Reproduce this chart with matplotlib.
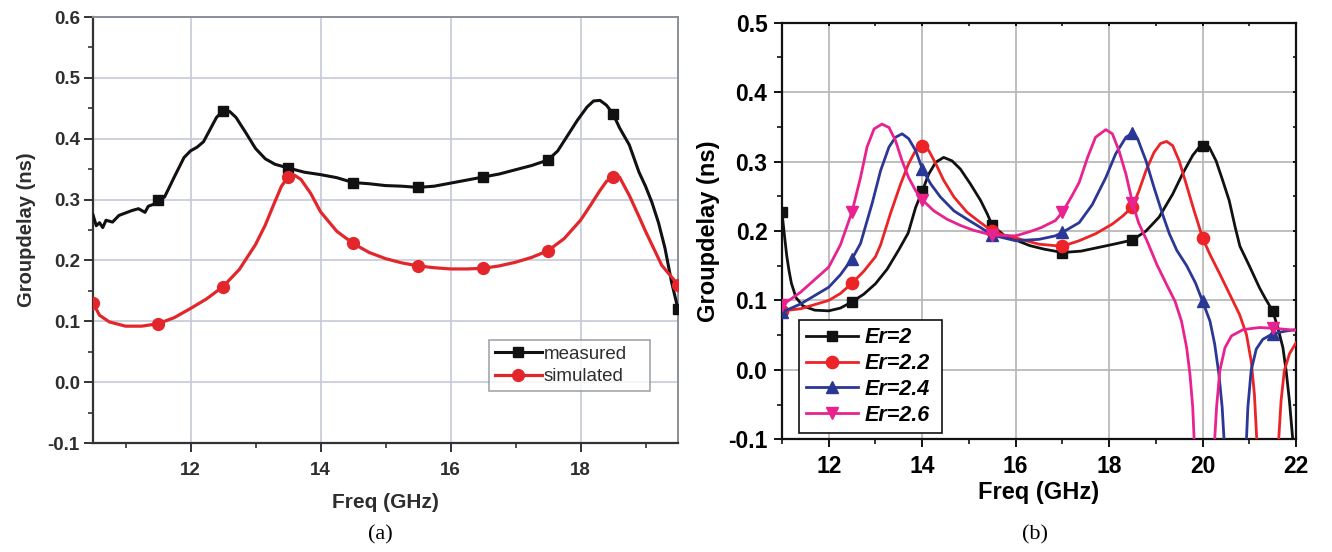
import numpy as np
import matplotlib
matplotlib.use("Agg")
import matplotlib.pyplot as plt
from matplotlib.ticker import MultipleLocator, FormatStrFormatter

# ---------------- data: panel (a) ----------------
meas_f = [10.5, 10.55, 10.6, 10.65, 10.7, 10.8, 10.9, 11.0, 11.1, 11.2, 11.3, 11.35,
          11.45, 11.5, 11.6, 11.75, 11.9, 12.0, 12.1, 12.2, 12.3, 12.4, 12.5, 12.6,
          12.7, 12.85, 13.0, 13.15, 13.3, 13.5, 13.75, 14.0, 14.25, 14.5, 14.75, 15.0,
          15.25, 15.5, 15.75, 16.0, 16.25, 16.5, 16.75, 17.0, 17.25, 17.5, 17.65, 17.8,
          17.95, 18.1, 18.2, 18.3, 18.4, 18.5, 18.6, 18.75, 18.9, 19.0, 19.1, 19.2,
          19.3, 19.4, 19.5]
meas_v = [0.275, 0.257, 0.262, 0.254, 0.266, 0.263, 0.274, 0.278, 0.282, 0.285, 0.279, 0.289,
          0.293, 0.300, 0.304, 0.337, 0.369, 0.380, 0.386, 0.395, 0.415, 0.435, 0.446, 0.445,
          0.435, 0.410, 0.384, 0.367, 0.358, 0.352, 0.345, 0.341, 0.336, 0.328, 0.326, 0.323,
          0.322, 0.320, 0.322, 0.327, 0.332, 0.337, 0.342, 0.349, 0.356, 0.365, 0.380, 0.405,
          0.430, 0.452, 0.462, 0.463, 0.455, 0.441, 0.418, 0.390, 0.345, 0.322, 0.295, 0.262,
          0.220, 0.165, 0.120]
meas_mark_f = [11.5, 12.5, 13.5, 14.5, 15.5, 16.5, 17.5, 18.5, 19.5]

sim_f = [10.5, 10.6, 10.75, 11.0, 11.25, 11.5, 11.75, 12.0, 12.25, 12.5, 12.75, 13.0,
         13.15, 13.3, 13.4, 13.5, 13.6, 13.7, 13.85, 14.0, 14.25, 14.5, 14.75, 15.0,
         15.25, 15.5, 15.75, 16.0, 16.25, 16.5, 16.75, 17.0, 17.25, 17.5, 17.75, 18.0,
         18.15, 18.3, 18.4, 18.5, 18.6, 18.75, 18.9, 19.0, 19.25, 19.5]
sim_v = [0.130, 0.110, 0.099, 0.092, 0.092, 0.096, 0.106, 0.121, 0.137, 0.157, 0.185, 0.226,
         0.258, 0.297, 0.322, 0.337, 0.340, 0.333, 0.310, 0.280, 0.248, 0.228, 0.213, 0.203,
         0.196, 0.191, 0.188, 0.186, 0.186, 0.187, 0.191, 0.197, 0.205, 0.216, 0.236, 0.266,
         0.290, 0.315, 0.330, 0.337, 0.337, 0.307, 0.272, 0.248, 0.192, 0.160]
sim_mark_f = [10.5, 11.5, 12.5, 13.5, 14.5, 15.5, 16.5, 17.5, 18.5, 19.5]

# ---------------- data: panel (b) ----------------
nan = np.nan
er_labels = ["Er=2", "Er=2.2", "Er=2.4", "Er=2.6"]
er2_f = [11.0, 11.05, 11.1, 11.15, 11.2, 11.3, 11.45, 11.7, 12.0, 12.25, 12.5, 12.75, 13.0,
         13.25, 13.5, 13.7, 13.86, 14.0, 14.14, 14.29, 14.46, 14.64, 14.82, 15.03, 15.25,
         15.39, 15.5, 15.75, 16.0, 16.3, 16.6, 17.0, 17.4, 17.75, 18.1, 18.5, 18.79, 19.07,
         19.36, 19.57, 19.79, 19.92, 20.0, 20.14, 20.29, 20.43, 20.57, 20.7, 20.8, 21.0,
         21.22, 21.35, 21.5, 21.61, 21.72, 21.79, 21.86, 21.93]
er2_v = [0.227, 0.195, 0.165, 0.143, 0.125, 0.104, 0.092, 0.086, 0.085, 0.089, 0.098, 0.109, 0.124,
         0.145, 0.173, 0.197, 0.234, 0.257, 0.282, 0.299, 0.306, 0.301, 0.289, 0.268, 0.244,
         0.225, 0.208, 0.194, 0.187, 0.179, 0.174, 0.169, 0.171, 0.176, 0.181, 0.187, 0.200, 0.220,
         0.253, 0.282, 0.309, 0.320, 0.323, 0.321, 0.301, 0.273, 0.244, 0.205, 0.178, 0.150,
         0.118, 0.102, 0.085, 0.061, 0.032, -0.002, -0.045, -0.100]

er22_f = [11.0, 11.4, 12.0, 12.25, 12.5, 12.75, 13.0, 13.11, 13.32, 13.54, 13.71, 13.86, 14.0,
          14.14, 14.29, 14.46, 14.68, 14.96, 15.25, 15.5, 15.75, 16.0, 16.5, 17.0, 17.36, 17.71,
          18.07, 18.3, 18.5, 18.64, 18.79, 18.96, 19.1, 19.23, 19.36, 19.5, 19.64, 19.82, 19.91,
          20.0, 20.16, 20.37, 20.58, 20.79, 20.94, 21.04, 21.11, 21.16,
          nan, 21.63, 21.68, 21.75, 21.86, 22.0]
er22_v = [0.085, 0.088, 0.100, 0.110, 0.125, 0.142, 0.163, 0.180, 0.225, 0.268, 0.297, 0.316, 0.322,
          0.316, 0.297, 0.273, 0.249, 0.227, 0.212, 0.200, 0.194, 0.190, 0.181, 0.178, 0.186, 0.196,
          0.210, 0.222, 0.235, 0.258, 0.287, 0.313, 0.326, 0.329, 0.323, 0.301, 0.270, 0.229, 0.210,
          0.190, 0.166, 0.138, 0.109, 0.080, 0.051, 0.013, -0.035, -0.100,
          nan, -0.100, -0.045, -0.001, 0.023, 0.039]

er24_f = [11.0, 11.4, 12.0, 12.25, 12.5, 12.68, 12.93, 13.11, 13.29, 13.43, 13.57, 13.71, 13.86,
          14.0, 14.18, 14.39, 14.68, 14.96, 15.25, 15.5, 16.0, 16.5, 16.85, 17.0, 17.36, 17.64,
          17.93, 18.14, 18.36, 18.5, 18.61, 18.79, 18.96, 19.14, 19.29, 19.45, 19.66, 19.85,
          20.0, 20.16, 20.26, 20.35, 20.42, 20.46,
          nan, 20.94, 20.97, 21.04, 21.15, 21.29, 21.5, 21.79, 22.0]
er24_v = [0.083, 0.095, 0.119, 0.137, 0.160, 0.182, 0.240, 0.287, 0.321, 0.335, 0.340, 0.333, 0.316,
          0.290, 0.268, 0.249, 0.229, 0.217, 0.205, 0.194, 0.186, 0.188, 0.193, 0.198, 0.212, 0.238,
          0.277, 0.311, 0.335, 0.341, 0.333, 0.301, 0.263, 0.225, 0.196, 0.172, 0.150, 0.125,
          0.099, 0.070, 0.037, -0.006, -0.054, -0.100,
          nan, -0.100, -0.054, -0.001, 0.030, 0.044, 0.052, 0.056, 0.058]

er26_f = [11.0, 11.4, 12.0, 12.25, 12.5, 12.68, 12.82, 12.97, 13.14, 13.29, 13.43, 13.57, 13.71,
          13.86, 14.0, 14.25, 14.53, 14.82, 15.1, 15.5, 16.0, 16.3, 16.55, 16.85, 17.0, 17.2,
          17.36, 17.54, 17.71, 17.93, 18.07, 18.21, 18.36, 18.5, 18.63, 18.81, 19.02, 19.23,
          19.41, 19.55, 19.66, 19.73, 19.79, 19.82,
          nan, 20.26, 20.3, 20.37, 20.48, 20.62, 20.87, 21.22, 21.5, 22.0]
er26_v = [0.093, 0.112, 0.148, 0.180, 0.228, 0.277, 0.321, 0.347, 0.354, 0.349, 0.330, 0.301, 0.277,
          0.258, 0.245, 0.229, 0.217, 0.208, 0.201, 0.194, 0.193, 0.199, 0.205, 0.215, 0.227, 0.250,
          0.270, 0.306, 0.335, 0.346, 0.340, 0.316, 0.282, 0.241, 0.212, 0.186, 0.152, 0.123,
          0.099, 0.070, 0.032, -0.006, -0.054, -0.100,
          nan, -0.100, -0.054, -0.001, 0.032, 0.049, 0.058, 0.061, 0.060, 0.057]
er_mark_f = [11.0, 12.5, 14.0, 15.5, 17.0, 18.5, 20.0, 21.5]

# ---------------- figure ----------------
fig = plt.figure(figsize=(13.32, 5.52), dpi=100)
fig.patch.set_facecolor("white")

SANS = ["Liberation Sans", "DejaVu Sans"]
SERIF = ["Liberation Serif", "DejaVu Serif"]


def mark_idx(freqs, marks):
    return [i for i, f in enumerate(freqs) if not np.isnan(f) and any(abs(f - m) < 1e-9 for m in marks)]


# ---- panel (a) ----
axa = fig.add_axes([93 / 1332, 1 - 443 / 552, (678 - 93) / 1332, (443 - 17) / 552])
gray_txt = "#2e2e2e"
axa.plot(meas_f, meas_v, color="#111111", lw=2.2, marker="s", ms=7.5, solid_joinstyle="round",
         markevery=mark_idx(meas_f, meas_mark_f), label="measured", zorder=3)
axa.plot(sim_f, sim_v, color="#e3262b", lw=2.3, marker="o", ms=8.5, solid_joinstyle="round",
         markevery=mark_idx(sim_f, sim_mark_f), label="simulated", zorder=3)
axa.set_xlim(10.5, 19.5)
axa.set_ylim(-0.1, 0.6)
axa.xaxis.set_major_locator(MultipleLocator(2))
axa.xaxis.set_minor_locator(MultipleLocator(1))
axa.yaxis.set_major_locator(MultipleLocator(0.1))
axa.yaxis.set_minor_locator(MultipleLocator(0.05))
axa.yaxis.set_major_formatter(FormatStrFormatter("%.1f"))
axa.grid(True, which="major", color="#c3cad6", lw=1.2)
axa.set_axisbelow(True)
for s in ["left", "bottom"]:
    axa.spines[s].set_color("#333333")
    axa.spines[s].set_linewidth(1.6)
for s in ["top", "right"]:
    axa.spines[s].set_color("#8a8f96")
    axa.spines[s].set_linewidth(1.4)
axa.tick_params(which="major", direction="out", length=6.5, width=1.4, color="#333333",
                labelsize=13.5, labelcolor=gray_txt, pad=3)
axa.tick_params(which="minor", direction="out", length=3.5, width=1.2, color="#333333")
axa.tick_params(axis="x", which="major", pad=7)
for lab in axa.get_xticklabels() + axa.get_yticklabels():
    lab.set_fontweight("bold")
    lab.set_family(SANS)
axa.set_xlabel("Freq (GHz)", fontsize=15, fontweight="bold", color=gray_txt, family=SANS, labelpad=10)
axa.set_ylabel("Groupdelay (ns)", fontsize=14.5, fontweight="bold", color=gray_txt, family=SANS, labelpad=8)
leg_a = axa.legend(loc="lower left", bbox_to_anchor=(0.677, 0.122, 0.275, 0.122), mode="expand",
                   prop={"family": SANS, "size": 13.5}, frameon=True, fancybox=False,
                   handlelength=2.5, handletextpad=0.1, labelspacing=0.3, borderpad=0.3,
                   borderaxespad=0.0, labelcolor=gray_txt)
leg_a.get_frame().set_edgecolor("#8a8f96")
leg_a.get_frame().set_linewidth(1.2)
fig.text(380 / 1332, 1 - 535 / 552, "(a)", ha="center", va="center", fontsize=16, family=SERIF)

# ---- panel (b) ----
axb = fig.add_axes([782 / 1332, 1 - 439.3 / 552, (1296 - 782) / 1332, (439.3 - 22.7) / 552])
er_series = [(er2_f, er2_v, "#111111", "s", 7.2),
             (er22_f, er22_v, "#ec2327", "o", 8.8),
             (er24_f, er24_v, "#2b3795", "^", 9.0),
             (er26_f, er26_v, "#e8228e", "v", 9.0)]
for (fr, vv, col, mk, ms), lab in zip(er_series, er_labels):
    axb.plot(fr, vv, color=col, lw=2.0, marker=mk, ms=ms, solid_joinstyle="round",
             markevery=mark_idx(fr, er_mark_f), label=lab, zorder=3)
axb.set_xlim(11, 22)
axb.set_ylim(-0.1, 0.5)
axb.xaxis.set_major_locator(MultipleLocator(2))
axb.xaxis.set_minor_locator(MultipleLocator(1))
axb.yaxis.set_major_locator(MultipleLocator(0.1))
axb.yaxis.set_minor_locator(MultipleLocator(0.05))
axb.yaxis.set_major_formatter(FormatStrFormatter("%.1f"))
axb.grid(True, which="major", color="#b4b4b4", lw=1.2)
axb.set_axisbelow(True)
for s in axb.spines.values():
    s.set_color("#111111")
    s.set_linewidth(1.6)
axb.tick_params(which="major", direction="out", length=5.5, width=1.4, color="#111111",
                labelsize=16.5, pad=5)
axb.tick_params(which="minor", direction="out", length=3.5, width=1.2, color="#111111")
axb.tick_params(which="both", top=True, right=True)
axb.tick_params(which="major", axis="x", pad=6)
for lab in axb.get_xticklabels() + axb.get_yticklabels():
    lab.set_fontweight("bold")
    lab.set_family(SANS)
# top / right ticks point inward and are short
for t in axb.xaxis.get_major_ticks() + axb.xaxis.get_minor_ticks():
    t.tick2line.set_marker(matplotlib.lines.TICKDOWN)
    t.tick2line.set_markersize(2.5)
for t in axb.yaxis.get_major_ticks() + axb.yaxis.get_minor_ticks():
    t.tick2line.set_marker(matplotlib.lines.TICKLEFT)
    t.tick2line.set_markersize(2.5)
axb.set_xlabel("Freq (GHz)", fontsize=17, fontweight="bold", family=SANS, labelpad=2)
axb.set_ylabel("Groupdelay (ns)", fontsize=17, fontweight="bold", family=SANS, labelpad=6)
leg_b = axb.legend(loc="lower left", bbox_to_anchor=(0.033, 0.015, 0.278, 0.272), mode="expand",
                   prop={"family": SANS, "size": 15.5, "weight": "bold", "style": "italic"},
                   frameon=True, fancybox=False, handlelength=2.4, handletextpad=0.3,
                   labelspacing=0.22, borderpad=0.35, borderaxespad=0.0)
leg_b.get_frame().set_edgecolor("#111111")
leg_b.get_frame().set_linewidth(1.2)
leg_b.get_frame().set_alpha(1.0)
fig.text(1035 / 1332, 1 - 535 / 552, "(b)", ha="center", va="center", fontsize=16, family=SERIF)

fig.savefig("out.png", dpi=100, facecolor="white")
